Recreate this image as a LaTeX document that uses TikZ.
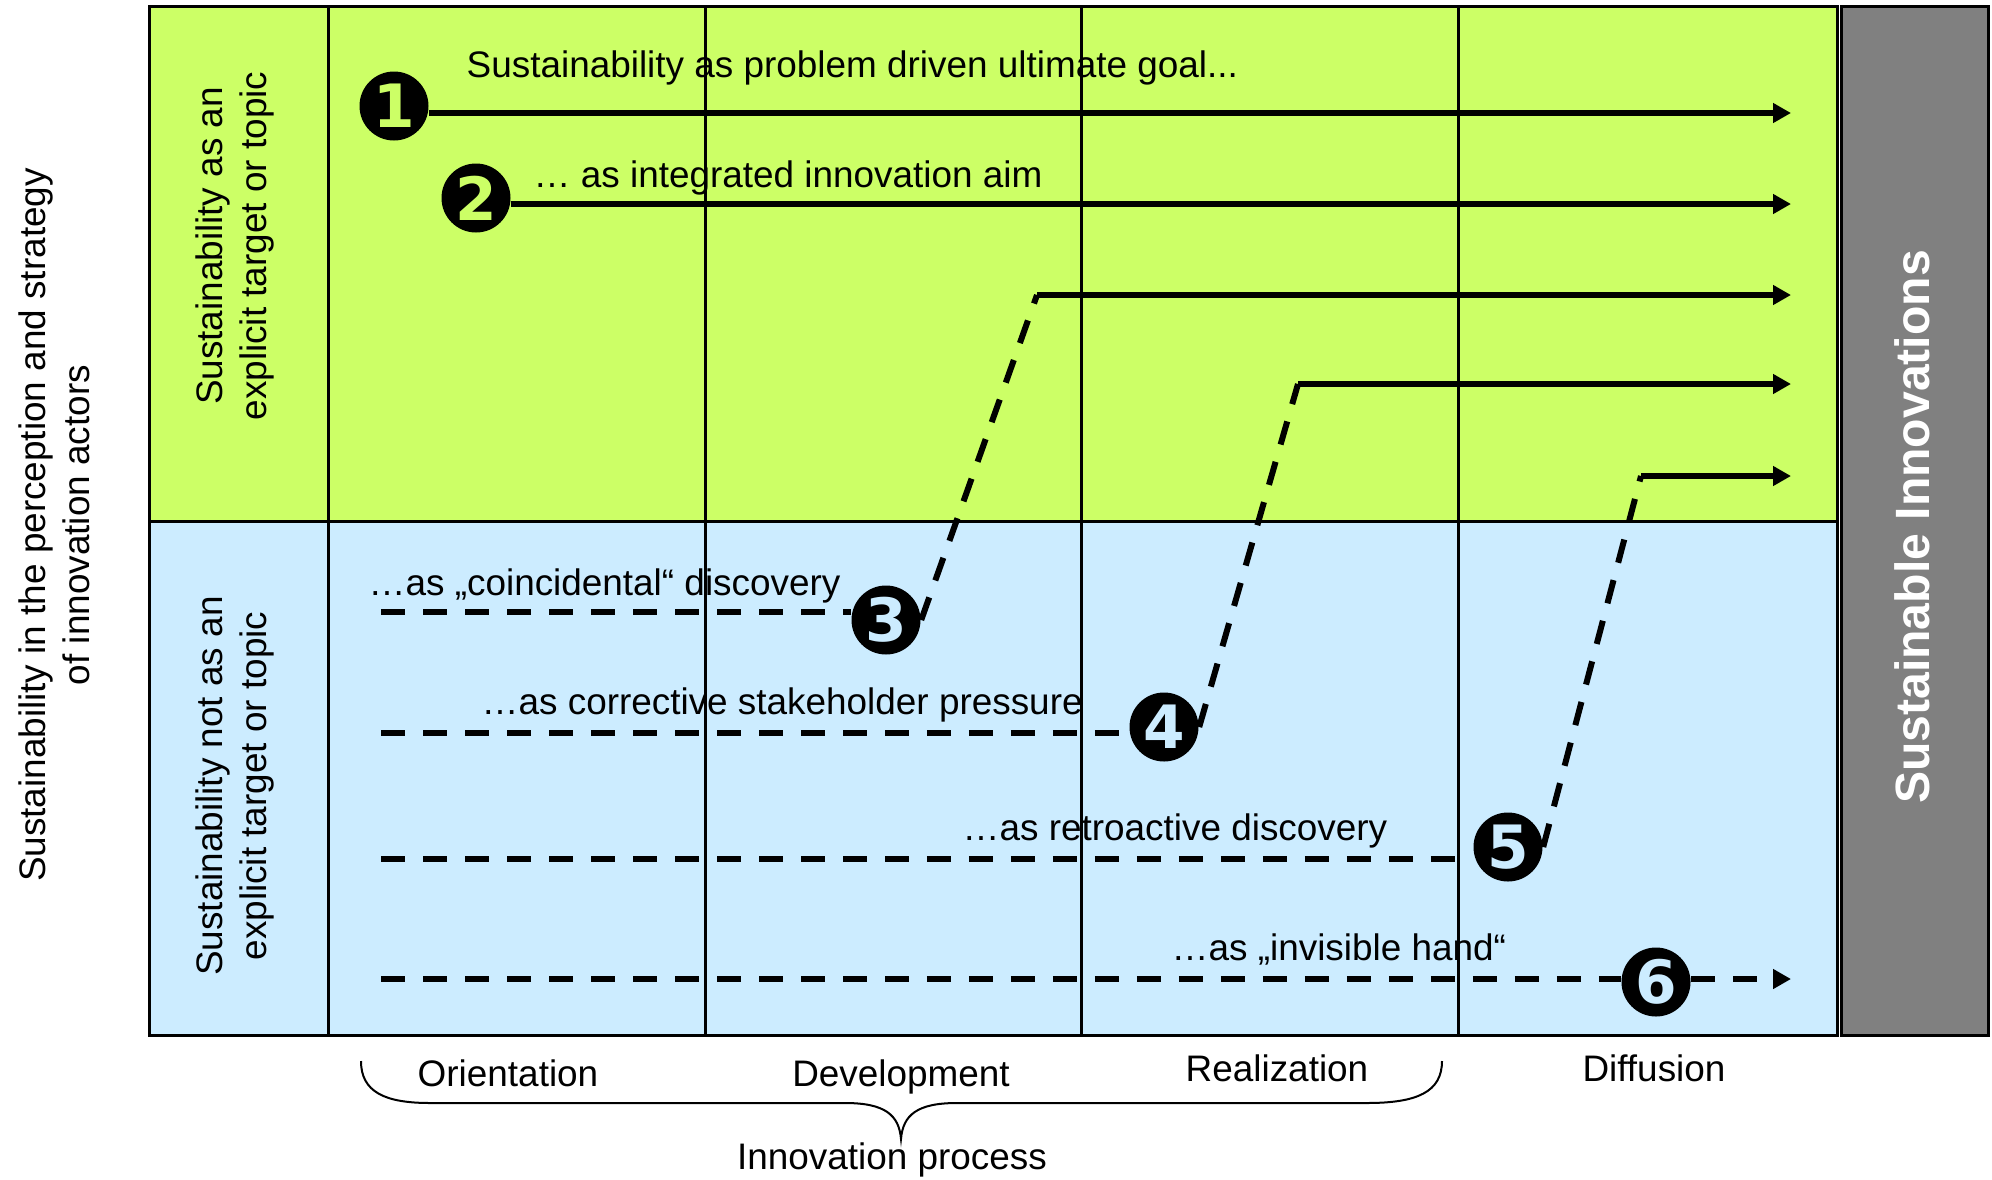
\documentclass[tikz,border=0pt]{standalone}
\usepackage{fontspec}
\setmainfont{Liberation Sans}
\newfontfamily\numfont{DejaVu Sans}
\usetikzlibrary{arrows.meta,calc}
\definecolor{lgreen}{HTML}{CCFF66}
\definecolor{lblue}{HTML}{CCECFF}
\definecolor{dgray}{HTML}{808080}
\begin{document}
\begin{tikzpicture}[x=0.1mm,y=-0.1mm,
  lbl/.style={font=\fontsize{10.5}{12.6}\selectfont, inner sep=0pt},
  num/.style={circle, fill=black, minimum size=6.9mm, inner sep=0pt, font=\numfont\bfseries\fontsize{17}{17}\selectfont},
  solidarr/.style={line width=0.6mm, -{Triangle[length=1.8mm,width=1.9mm]}},
  dasharr/.style={line width=0.6mm, dash pattern=on 2.4mm off 1.8mm},
  gridline/.style={line width=0.3mm}]
\useasboundingbox[fill=white] (0,0) rectangle (1992,1179);
% panels
\fill[lgreen] (149,6) rectangle (1837,521);
\fill[lblue] (149,521) rectangle (1837,1035);
\draw[gridline] (149,521) -- (1837,521);
\foreach \x in {328,705,1081,1458} \draw[gridline] (\x,6) -- (\x,1035);
\draw[line width=0.3mm] (149,6) rectangle (1837,1035);
\filldraw[fill=dgray, draw=black, line width=0.3mm] (1841,6) rectangle (1988,1035);
% circles
\node[num, text=lgreen] (c1) at (394,106) {1};
\node[num, text=lgreen] (c2) at (476,198) {2};
\node[num, text=lblue] (c3) at (886,620) {3};
\node[num, text=lblue] (c4) at (1164,727) {4};
\node[num, text=lblue] (c5) at (1508,847) {5};
\node[num, text=lblue] (c6) at (1656,982) {6};
% coordinates
\coordinate (e1) at (1791,113);
\coordinate (e2) at (1791,204);
\coordinate (k3) at (1037,295); \coordinate (e3) at (1791,295);
\coordinate (k4) at (1298,384); \coordinate (e4) at (1791,384);
\coordinate (k5) at (1641,476); \coordinate (e5) at (1791,476);
\coordinate (d3) at (381,612);
\coordinate (d4) at (381,733);
\coordinate (d5) at (381,859);
\coordinate (d6) at (381,979);
\coordinate (e6) at (1791,979);
% connectors
\draw[solidarr] (c1.east |- e1) -- (e1);
\draw[solidarr] (c2.east |- e2) -- (e2);
\draw[solidarr] (k3) -- (e3);
\draw[solidarr] (k4) -- (e4);
\draw[solidarr] (k5) -- (e5);
\draw[dasharr] (d3) -- (d3 -| c3.west);
\draw[dasharr] (c3.east) -- (k3);
\draw[dasharr] (d4) -- (d4 -| c4.west);
\draw[dasharr] (c4.east) -- (k4);
\draw[dasharr] (d5) -- (d5 -| c5.west);
\draw[dasharr] (c5.east) -- (k5);
\draw[dasharr] (d6) -- (d6 -| c6.west);
\draw[dasharr, -{Triangle[length=1.8mm,width=1.9mm]}] (d6 -| c6.east) -- (e6);
% labels
\node[lbl, anchor=base west] (t1) at (466,77) {Sustainability as problem driven ultimate goal...};
\node[lbl, anchor=base west] (t2) at (533,187) {… as integrated innovation aim};
\node[lbl, anchor=base west] (t3) at (368,595) {…as „coincidental“ discovery};
\node[lbl, anchor=base west] (t4) at (481,714) {…as corrective stakeholder pressure};
\node[lbl, anchor=base west] (t5) at (962,840) {…as retroactive discovery};
\node[lbl, anchor=base west] (t6) at (1171,960) {…as „invisible hand“};
\node[lbl, anchor=base] (p1) at (508,1086) {Orientation};
\node[lbl, anchor=base] (p2) at (901,1086) {Development};
\node[lbl, anchor=base] (p3) at (1277,1081) {Realization};
\node[lbl, anchor=base] (p4) at (1654,1081) {Diffusion};
\node[lbl, anchor=base] (ip) at (892,1169) {Innovation process};
\node[lbl, rotate=90, align=center] (r1) at (235,246) {Sustainability as an\\explicit target or topic};
\node[lbl, rotate=90, align=center] (r2) at (235,786) {Sustainability not as an\\explicit target or topic};
\node[lbl, rotate=90, align=center] (ax) at (54,525) {Sustainability in the perception and strategy\\of innovation actors};
\node[rotate=90, text=white, inner sep=0pt, font=\bfseries\fontsize{13.7}{16}\selectfont] (si) at (1912,527) {Sustainable Innovations};
% brace
\draw[line width=0.2mm] (361,1061) .. controls (361,1092) and (385,1103) .. (430,1103) -- (845,1103) .. controls (885,1103) and (899,1115) .. (901,1139) .. controls (903,1115) and (917,1103) .. (957,1103) -- (1367,1103) .. controls (1417,1103) and (1442,1092) .. (1442,1061);
\end{tikzpicture}
\end{document}
